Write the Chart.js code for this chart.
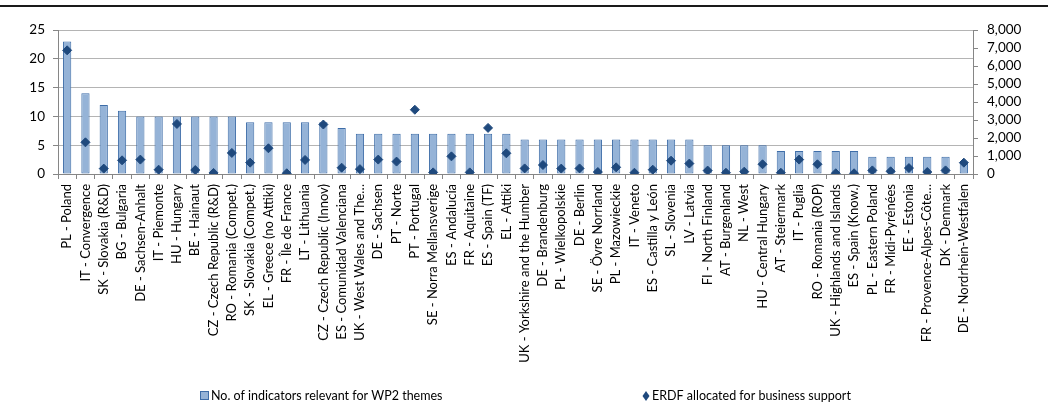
<!DOCTYPE html>
<html>
<head>
    <title>WP2 indicators and ERDF business support</title>
    <script src="https://cdn.jsdelivr.net/npm/chart.js"></script>
    <style>
        body { margin: 0; background: #fff; }
    </style>
</head>
<body>
    <canvas id="chart" width="1052" height="417"></canvas>
    <script>
        // regions (x axis)
        const regions = [
            "PL - Poland", "IT - Convergence", "SK - Slovakia (R&D)", "BG - Bulgaria", "DE - Sachsen-Anhalt",
            "IT - Piemonte", "HU - Hungary", "BE - Hainaut", "CZ - Czech Republic (R&D)", "RO - Romania (Compet.)",
            "SK - Slovakia (Compet.)", "EL - Greece (no Attiki)", "FR - Île de France", "LT - Lithuania", "CZ - Czech Republic (Innov)",
            "ES - Comunidad Valenciana", "UK - West Wales and The…", "DE - Sachsen", "PT - Norte", "PT - Portugal",
            "SE - Norra Mellansverige", "ES - Andalucía", "FR - Aquitaine", "ES - Spain (TF)", "EL - Attiki",
            "UK - Yorkshire and the Humber", "DE - Brandenburg", "PL - Wielkopolskie", "DE - Berlin", "SE - Övre Norrland",
            "PL - Mazowieckie", "IT - Veneto", "ES - Castilla y León", "SL - Slovenia", "LV - Latvia",
            "FI - North Finland", "AT - Burgenland", "NL - West", "HU - Central Hungary", "AT - Steiermark",
            "IT - Puglia", "RO - Romania (ROP)", "UK - Highlands and Islands", "ES - Spain (Know.)", "PL - Eastern Poland",
            "FR - Midi-Pyrénées", "EE - Estonia", "FR - Provence-Alpes-Côte…", "DK - Denmark", "DE - Nordrhein-Westfalen"
        ];

        // left axis: number of indicators
        const indicators = [
            23, 14, 12, 11, 10, 10, 10, 10, 10, 10,
            9, 9, 9, 9, 9, 8, 7, 7, 7, 7,
            7, 7, 7, 7, 7, 6, 6, 6, 6, 6,
            6, 6, 6, 6, 6, 5, 5, 5, 5, 4,
            4, 4, 4, 4, 3, 3, 3, 3, 3, 2
        ];

        // right axis: ERDF allocated for business support
        const erdf = [
            6870, 1760, 300, 760, 800, 240, 2780, 220, 60, 1170,
            630, 1430, 40, 780, 2750, 350, 270, 800, 690, 3570,
            90, 980, 90, 2560, 1150, 310, 500, 300, 310, 110,
            370, 70, 240, 740, 580, 190, 70, 130, 540, 70,
            800, 540, 40, 40, 200, 150, 330, 110, 200, 630
        ];

        const leftTicks = { min: 0, max: 25, step: 5 };
        const rightTicks = { min: 0, max: 8000, step: 1000 };

        const axisGrey = '#868686';
        const fontFamily = 'Lato, "Open Sans", sans-serif';

        // top rule + legend drawn on the canvas
        const extras = {
            id: 'extras',
            afterDraw(chart) {
                const ctx = chart.ctx;
                ctx.save();
                ctx.strokeStyle = '#1a1a1a';
                ctx.lineWidth = 2;
                ctx.beginPath();
                ctx.moveTo(0, 6);
                ctx.lineTo(1048, 6);
                ctx.stroke();

                const ly = 396;
                ctx.font = '12.5px ' + fontFamily;
                ctx.textBaseline = 'middle';

                const bar = chart.data.datasets[1];
                ctx.fillStyle = bar.backgroundColor;
                ctx.strokeStyle = bar.borderColor;
                ctx.lineWidth = 1;
                ctx.fillRect(200.5, ly - 4.5, 8, 8);
                ctx.strokeRect(200.5, ly - 4.5, 8, 8);
                ctx.fillStyle = '#000';
                ctx.fillText(bar.label, 211, ly);

                const pts = chart.data.datasets[0];
                ctx.fillStyle = pts.backgroundColor;
                ctx.beginPath();
                ctx.moveTo(646, ly - 5);
                ctx.lineTo(649.5, ly);
                ctx.lineTo(646, ly + 5);
                ctx.lineTo(642.5, ly);
                ctx.closePath();
                ctx.fill();
                ctx.fillStyle = '#000';
                ctx.fillText(pts.label, 652, ly);
                ctx.restore();
            }
        };

        new Chart(document.getElementById('chart').getContext('2d'), {
            type: 'bar',
            data: {
                labels: regions,
                datasets: [
                    {
                        type: 'line',
                        label: 'ERDF allocated for business support',
                        data: erdf,
                        yAxisID: 'y1',
                        showLine: false,
                        pointStyle: 'rectRot',
                        pointRadius: 4.5,
                        pointBackgroundColor: '#1F497D',
                        pointBorderColor: '#1F497D',
                        backgroundColor: '#1F497D',
                        borderColor: '#1F497D',
                        order: 0
                    },
                    {
                        label: 'No. of indicators relevant for WP2 themes',
                        data: indicators,
                        yAxisID: 'y',
                        backgroundColor: '#95B3D7',
                        borderColor: '#3E6DA8',
                        borderWidth: 1,
                        borderSkipped: false,
                        barPercentage: 0.45,
                        categoryPercentage: 1,
                        order: 1
                    }
                ]
            },
            options: {
                responsive: false,
                devicePixelRatio: 1,
                animation: false,
                layout: { padding: { top: 30, left: 0, right: 0, bottom: 0 } },
                plugins: {
                    legend: { display: false },
                    tooltip: { enabled: false }
                },
                scales: {
                    x: {
                        offset: true,
                        grid: {
                            offset: true,
                            drawOnChartArea: false,
                            drawTicks: true,
                            tickLength: 5,
                            color: axisGrey
                        },
                        border: { color: axisGrey },
                        ticks: {
                            autoSkip: false,
                            minRotation: 90,
                            maxRotation: 90,
                            padding: 5,
                            color: '#000',
                            font: { family: fontFamily, size: 13 }
                        },
                        afterFit(scale) { scale.height = 243; }
                    },
                    y: {
                        position: 'left',
                        min: leftTicks.min,
                        max: leftTicks.max,
                        grid: {
                            color: '#B4B4B4',
                            tickLength: 5,
                            tickColor: axisGrey
                        },
                        border: { color: axisGrey },
                        ticks: {
                            stepSize: leftTicks.step,
                            autoSkip: false,
                            padding: 8,
                            color: '#000',
                            font: { family: fontFamily, size: 13.5 }
                        },
                        afterFit(scale) { scale.width = 58; }
                    },
                    y1: {
                        position: 'right',
                        min: rightTicks.min,
                        max: rightTicks.max,
                        grid: {
                            drawOnChartArea: false,
                            tickLength: 5,
                            color: axisGrey
                        },
                        border: { color: axisGrey },
                        ticks: {
                            stepSize: rightTicks.step,
                            autoSkip: false,
                            padding: 9,
                            color: '#000',
                            font: { family: fontFamily, size: 13.5 },
                            callback: (v) => v.toLocaleString('en-US')
                        },
                        afterFit(scale) { scale.width = 79; }
                    }
                }
            },
            plugins: [extras]
        });
    </script>
</body>
</html>
